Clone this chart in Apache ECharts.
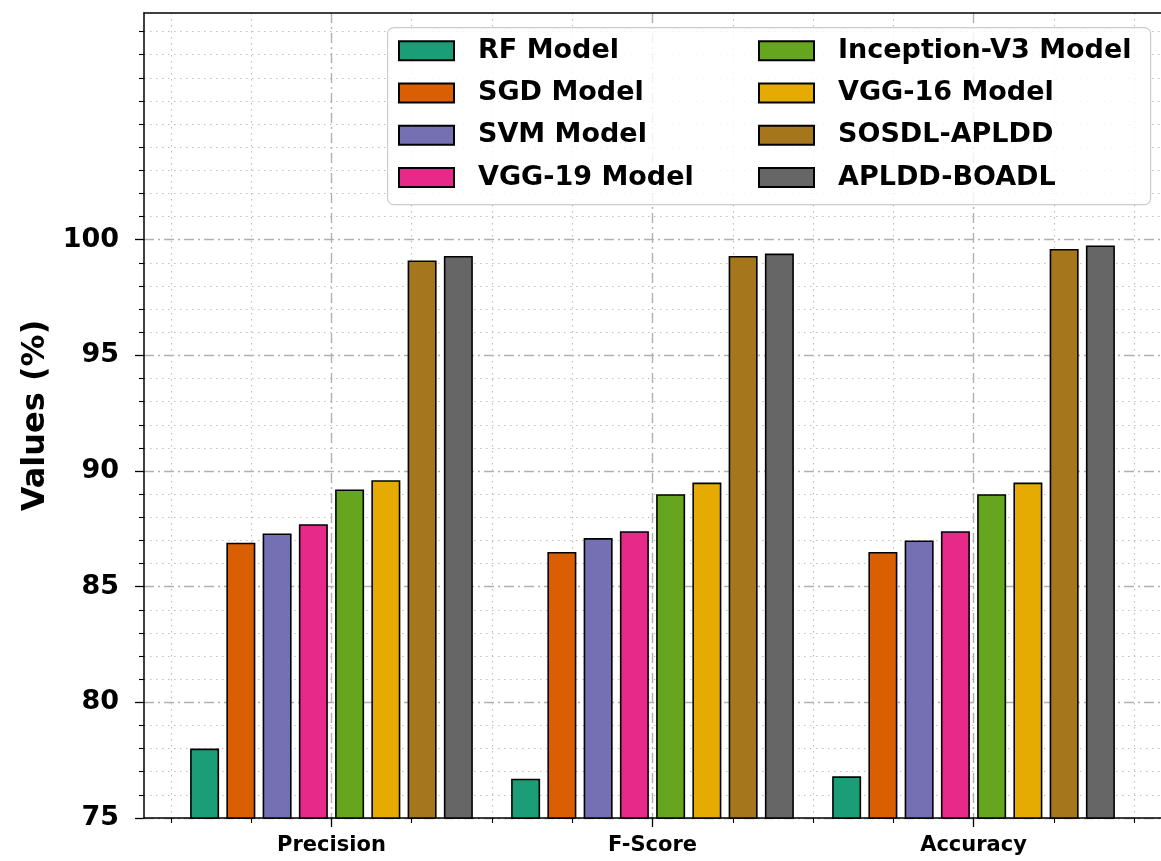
<!DOCTYPE html>
<html>
<head>
<meta charset="utf-8">
<title>Model comparison</title>
<script src="https://cdn.jsdelivr.net/npm/echarts@6/dist/echarts.min.js"></script>
<style>
  html, body { margin: 0; padding: 0; background: #ffffff; }
  #chart { width: 1161px; height: 861px; }
</style>
</head>
<body>
<div id="chart"></div>
<script>
// Metric groups along the x axis (placed at 0, 1, 2)
const categories = ['Precision', 'F-Score', 'Accuracy'];

// Model names, in legend order
const modelNames = [
  'RF Model', 'SGD Model', 'SVM Model', 'VGG-19 Model',
  'Inception-V3 Model', 'VGG-16 Model', 'SOSDL-APLDD', 'APLDD-BOADL'
];

// Scores (%) per metric: Precision, F-Score, Accuracy
const rfModel        = [78.0, 76.7, 76.8];
const sgdModel       = [86.9, 86.5, 86.5];
const svmModel       = [87.3, 87.1, 87.0];
const vgg19Model     = [87.7, 87.4, 87.4];
const inceptionModel = [89.2, 89.0, 89.0];
const vgg16Model     = [89.6, 89.5, 89.5];
const sosdlApldd     = [99.1, 99.3, 99.6];
const aplddBoadl     = [99.3, 99.4, 99.75];

// Dark2 palette
const colors = ['#1b9e77', '#d95f02', '#7570b3', '#e7298a', '#66a61e', '#e6ab02', '#a6761d', '#666666'];

// Tick positions
const yMajorTicks = [75, 80, 85, 90, 95, 100];
const yMinorTicks = [];
for (let v = 76; v <= 109; v++) if (yMajorTicks.indexOf(v) < 0) yMinorTicks.push(v);
const xMajorTicks = [0, 1, 2];
const xMinorTicks = [-0.5, -0.25, 0.25, 0.5, 0.75, 1.25, 1.5, 1.75, 2.25, 2.5];

const seriesValues = [rfModel, sgdModel, svmModel, vgg19Model, inceptionModel, vgg16Model, sosdlApldd, aplddBoadl];

const FONT = 'DejaVu Sans';
const majorGrid = { color: '#b0b0b0', width: 1.4, type: [10, 4, 2, 4] };
const minorGrid = { color: '#c0c0c0', width: 1.2, type: [1.5, 4.5] };

const X_MIN = -0.584, X_MAX = 2.584;
const Y_MIN = 75, Y_MAX = 109.8;

const series = modelNames.map((name, i) => ({
  name: name,
  type: 'bar',
  xAxisIndex: 0,
  yAxisIndex: 0,
  barWidth: 29,
  barGap: '25%',
  itemStyle: { color: colors[i], borderColor: '#000000', borderWidth: 1.6 },
  data: seriesValues[i].map((v, k) => [xMajorTicks[k], v]),
  z: 2
}));

const legendCommon = {
  orient: 'vertical',
  icon: 'rect',
  itemWidth: 55,
  itemHeight: 19,
  itemGap: 12.3,
  padding: 0,
  textStyle: { fontFamily: FONT, fontWeight: 'bold', fontSize: 27, color: '#000', lineHeight: 30, padding: [0, 0, 0, 19] }
};

const option = {
  backgroundColor: '#ffffff',
  animation: false,
  color: colors,
  grid: { left: 144, right: -3, top: 13, bottom: 43, show: false },
  xAxis: [
    {
      type: 'value', min: X_MIN, max: X_MAX,
      axisLine: { show: true, onZero: false, lineStyle: { color: '#000', width: 1.5 } },
      axisTick: { show: true, length: 9, customValues: xMajorTicks, lineStyle: { color: '#000', width: 1.3 } },
      axisLabel: {
        show: true, customValues: xMajorTicks, margin: 17,
        fontFamily: FONT, fontWeight: 'bold', fontSize: 21, color: '#000',
        formatter: v => categories[Math.round(v)]
      },
      splitLine: { show: true, lineStyle: majorGrid }
    },
    {
      type: 'value', min: X_MIN, max: X_MAX, position: 'bottom',
      axisLine: { show: false, onZero: false },
      axisTick: { show: true, length: 5, customValues: xMinorTicks, lineStyle: { color: '#000', width: 1.1 } },
      axisLabel: { show: false },
      splitLine: { show: true, lineStyle: minorGrid }
    },
    {
      // top spine
      type: 'value', min: X_MIN, max: X_MAX, position: 'top',
      axisLine: { show: true, onZero: false, lineStyle: { color: '#000', width: 1.5 } },
      axisTick: { show: false }, axisLabel: { show: false }, splitLine: { show: false }
    }
  ],
  yAxis: [
    {
      type: 'value', min: Y_MIN, max: Y_MAX, position: 'left',
      name: 'Values (%)', nameLocation: 'middle', nameGap: 92, nameRotate: 90,
      nameTextStyle: { fontFamily: FONT, fontWeight: 'bold', fontSize: 32, color: '#000' },
      axisLine: { show: true, onZero: false, lineStyle: { color: '#000', width: 1.5 } },
      axisTick: { show: true, length: 9, customValues: yMajorTicks, lineStyle: { color: '#000', width: 1.3 } },
      axisLabel: {
        show: true, customValues: yMajorTicks, margin: 25,
        fontFamily: FONT, fontWeight: 'bold', fontSize: 27, color: '#000'
      },
      splitLine: { show: true, lineStyle: majorGrid }
    },
    {
      type: 'value', min: Y_MIN, max: Y_MAX, position: 'left',
      axisLine: { show: false, onZero: false },
      axisTick: { show: true, length: 5, customValues: yMinorTicks, lineStyle: { color: '#000', width: 1.1 } },
      axisLabel: { show: false },
      splitLine: { show: true, lineStyle: minorGrid }
    }
  ],
  legend: [
    Object.assign({}, legendCommon, { left: 398, top: 35.7, data: modelNames.slice(0, 4) }),
    Object.assign({}, legendCommon, { left: 758, top: 35.7, data: modelNames.slice(4) })
  ],
  graphic: [
    {
      type: 'rect', left: 387, top: 27, z: 3,
      shape: { width: 763, height: 177, r: 6 },
      style: { fill: 'rgba(255,255,255,0.82)', stroke: '#cccccc', lineWidth: 1.2 }
    }
  ],
  series: series
};

const chart = echarts.init(document.getElementById('chart'), null, { renderer: 'canvas' });
chart.setOption(option);
</script>
</body>
</html>
